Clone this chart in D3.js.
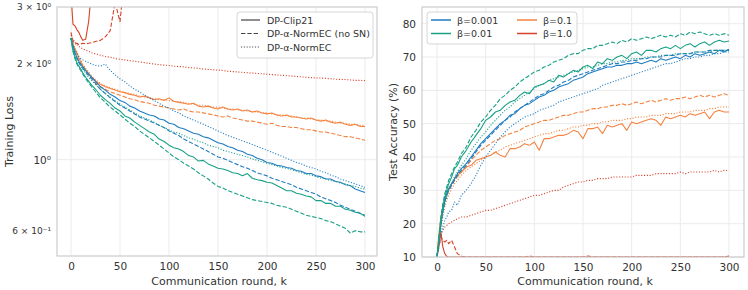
<!DOCTYPE html>
<html>
<head>
<meta charset="utf-8">
<script src="https://cdn.jsdelivr.net/npm/d3@7"></script>
<style>
  body { margin: 0; background: #fff; }
  svg text { font-family: "DejaVu Sans", sans-serif; fill: #333; }
</style>
</head>
<body>
<script>
const rounds = [0, 2, 4, 6, 8, 10, 12, 15, 18, 21, 25,
  30, 35, 40, 45, 50, 55, 60, 65, 70, 75,
  80, 85, 90, 95, 100, 105, 110, 115, 120, 125,
  130, 135, 140, 145, 150, 155, 160, 165, 170, 175,
  180, 185, 190, 195, 200, 205, 210, 215, 220, 225,
  230, 235, 240, 245, 250, 255, 260, 265, 270, 275,
  280, 285, 290, 295, 300];

const betas = ["β=0.001", "β=0.01", "β=0.1", "β=1.0"];
const methods = ["DP-Clip21", "DP-α-NormEC (no SN)", "DP-α-NormEC"];
const xTicks = [0, 50, 100, 150, 200, 250, 300];
const lossTicks = [0.6, 1, 2, 3];
const lossTickLabels = ["6 × 10⁻¹", "10⁰", "2 × 10⁰", "3 × 10⁰"];
const accTicks = [10, 20, 30, 40, 50, 60, 70, 80];

// ---- training loss ----
const lossClip001 = [2.40, 2.26, 2.16, 2.09, 2.03, 1.99, 1.95, 1.90, 1.85, 1.81, 1.76,
  1.69, 1.65, 1.60, 1.57, 1.53, 1.51, 1.47, 1.45, 1.42, 1.40,
  1.38, 1.37, 1.34, 1.33, 1.30, 1.29, 1.26, 1.25, 1.23, 1.21,
  1.20, 1.18, 1.17, 1.15, 1.13, 1.12, 1.10, 1.09, 1.07, 1.06,
  1.04, 1.03, 1.01, 1.00, 0.98, 0.975, 0.96, 0.955, 0.945, 0.94,
  0.925, 0.92, 0.905, 0.905, 0.89, 0.885, 0.87, 0.87, 0.855, 0.85,
  0.835, 0.83, 0.81, 0.80, 0.79];
const lossNoSN001 = [2.40, 2.24, 2.14, 2.07, 2.01, 1.97, 1.93, 1.88, 1.83, 1.79, 1.73,
  1.66, 1.61, 1.56, 1.52, 1.48, 1.45, 1.42, 1.39, 1.36, 1.34,
  1.32, 1.30, 1.28, 1.26, 1.23, 1.21, 1.19, 1.16, 1.14, 1.12,
  1.10, 1.08, 1.06, 1.04, 1.02, 1.01, 0.995, 0.98, 0.965, 0.95,
  0.94, 0.925, 0.91, 0.90, 0.89, 0.875, 0.865, 0.855, 0.845, 0.835,
  0.82, 0.81, 0.80, 0.79, 0.78, 0.765, 0.755, 0.745, 0.735, 0.72,
  0.71, 0.70, 0.69, 0.68, 0.67];
const lossNorm001 = [2.40, 2.28, 2.20, 2.14, 2.10, 2.07, 2.05, 2.03, 2.01, 1.99, 1.97,
  1.96, 1.99, 1.90, 1.84, 1.79, 1.75, 1.70, 1.66, 1.63, 1.59,
  1.56, 1.53, 1.50, 1.47, 1.45, 1.42, 1.40, 1.37, 1.35, 1.33,
  1.31, 1.29, 1.27, 1.25, 1.23, 1.21, 1.19, 1.175, 1.16, 1.145,
  1.13, 1.115, 1.10, 1.085, 1.07, 1.055, 1.04, 1.025, 1.01, 0.995,
  0.98, 0.97, 0.955, 0.945, 0.935, 0.92, 0.91, 0.895, 0.885, 0.87,
  0.86, 0.85, 0.84, 0.83, 0.82];
const lossClip01 = [2.40, 2.20, 2.09, 2.01, 1.96, 1.92, 1.87, 1.81, 1.76, 1.71, 1.66,
  1.59, 1.54, 1.50, 1.45, 1.42, 1.37, 1.35, 1.31, 1.28, 1.25,
  1.22, 1.20, 1.16, 1.14, 1.11, 1.09, 1.08, 1.06, 1.03, 1.02,
  0.99, 0.995, 0.97, 0.955, 0.94, 0.935, 0.925, 0.91, 0.905, 0.89,
  0.905, 0.875, 0.865, 0.86, 0.85, 0.845, 0.83, 0.815, 0.80, 0.80,
  0.785, 0.78, 0.77, 0.765, 0.745, 0.745, 0.73, 0.73, 0.715, 0.715,
  0.70, 0.695, 0.685, 0.68, 0.665];
const lossNoSN01 = [2.40, 2.18, 2.07, 1.99, 1.94, 1.90, 1.85, 1.79, 1.74, 1.69, 1.63,
  1.56, 1.51, 1.46, 1.42, 1.38, 1.34, 1.30, 1.27, 1.23, 1.20,
  1.17, 1.14, 1.11, 1.08, 1.05, 1.02, 1.00, 0.975, 0.955, 0.935,
  0.91, 0.89, 0.87, 0.845, 0.825, 0.815, 0.80, 0.79, 0.78, 0.77,
  0.76, 0.75, 0.745, 0.74, 0.735, 0.73, 0.72, 0.715, 0.71, 0.70,
  0.69, 0.68, 0.67, 0.665, 0.66, 0.655, 0.645, 0.64, 0.63, 0.62,
  0.61, 0.59, 0.60, 0.595, 0.595];
const lossNorm01 = [2.40, 2.22, 2.12, 2.05, 2.00, 1.96, 1.92, 1.86, 1.81, 1.77, 1.72,
  1.66, 1.61, 1.57, 1.53, 1.49, 1.46, 1.43, 1.40, 1.37, 1.35,
  1.33, 1.31, 1.28, 1.26, 1.24, 1.22, 1.21, 1.19, 1.17, 1.16,
  1.14, 1.13, 1.11, 1.10, 1.09, 1.07, 1.06, 1.05, 1.04, 1.03,
  1.02, 1.005, 0.995, 0.985, 0.975, 0.965, 0.955, 0.945, 0.94, 0.93,
  0.92, 0.91, 0.90, 0.895, 0.885, 0.875, 0.87, 0.86, 0.855, 0.845,
  0.84, 0.83, 0.825, 0.815, 0.81];
const lossClip1 = [2.40, 2.30, 2.22, 2.16, 2.08, 2.02, 1.97, 1.91, 1.86, 1.81, 1.76,
  1.72, 1.69, 1.67, 1.65, 1.63, 1.62, 1.60, 1.59, 1.57, 1.58,
  1.56, 1.54, 1.55, 1.53, 1.56, 1.52, 1.51, 1.50, 1.49, 1.50,
  1.47, 1.46, 1.47, 1.45, 1.44, 1.46, 1.44, 1.43, 1.44, 1.42,
  1.43, 1.41, 1.42, 1.40, 1.39, 1.40, 1.38, 1.37, 1.38, 1.36,
  1.36, 1.35, 1.34, 1.35, 1.33, 1.32, 1.33, 1.31, 1.30, 1.31,
  1.29, 1.28, 1.29, 1.27, 1.27];
const lossNoSN1 = [2.40, 2.29, 2.21, 2.14, 2.07, 2.01, 1.96, 1.90, 1.85, 1.80, 1.74,
  1.69, 1.66, 1.63, 1.61, 1.59, 1.57, 1.55, 1.54, 1.52, 1.51,
  1.50, 1.48, 1.47, 1.46, 1.45, 1.44, 1.43, 1.44, 1.42, 1.41,
  1.41, 1.40, 1.39, 1.38, 1.37, 1.36, 1.37, 1.35, 1.34, 1.33,
  1.32, 1.32, 1.31, 1.30, 1.29, 1.30, 1.28, 1.27, 1.27, 1.26,
  1.26, 1.25, 1.24, 1.24, 1.23, 1.22, 1.22, 1.21, 1.20, 1.19,
  1.18, 1.18, 1.17, 1.16, 1.15];
const lossNorm1 = [2.40, 2.31, 2.23, 2.17, 2.10, 2.04, 1.99, 1.93, 1.88, 1.83, 1.78,
  1.73, 1.70, 1.68, 1.66, 1.64, 1.62, 1.61, 1.60, 1.58, 1.57,
  1.56, 1.55, 1.54, 1.54, 1.53, 1.52, 1.52, 1.51, 1.50, 1.49,
  1.48, 1.48, 1.47, 1.46, 1.46, 1.45, 1.44, 1.44, 1.43, 1.43,
  1.42, 1.41, 1.41, 1.40, 1.40, 1.39, 1.38, 1.38, 1.37, 1.37,
  1.36, 1.35, 1.35, 1.34, 1.33, 1.33, 1.32, 1.32, 1.31, 1.30,
  1.30, 1.29, 1.29, 1.28, 1.28];
const lossClip10 = [3.30, 2.65, 2.62, 2.55, 2.50, 2.42, 2.36, 2.38, 2.70, 3.40];
const lossNoSN10 = [2.50, 2.35, 2.30, 2.31, 2.29, 2.30, 2.31, 2.30, 2.31, 2.32, 2.34,
  2.36, 2.42, 2.53, 3.10, 2.70, 3.80];
const lossNorm10 = [2.45, 2.38, 2.33, 2.29, 2.26, 2.24, 2.22, 2.20, 2.18, 2.16, 2.14,
  2.12, 2.10, 2.09, 2.07, 2.06, 2.05, 2.04, 2.03, 2.02, 2.01,
  2.00, 1.99, 1.98, 1.975, 1.97, 1.96, 1.955, 1.95, 1.94, 1.935,
  1.93, 1.92, 1.915, 1.91, 1.905, 1.90, 1.89, 1.885, 1.88, 1.875,
  1.87, 1.865, 1.86, 1.855, 1.85, 1.845, 1.84, 1.835, 1.83, 1.825,
  1.82, 1.815, 1.81, 1.805, 1.80, 1.80, 1.795, 1.79, 1.785, 1.78,
  1.78, 1.775, 1.77, 1.77, 1.765];

// ---- test accuracy ----
const accClip001 = [10, 15, 20, 24, 27, 29, 30.5, 32, 33.5, 35, 36.5,
  38, 40, 42, 44, 45.5, 47, 48.5, 50, 51, 52.5,
  53, 54.5, 55.5, 56, 57, 58, 58.5, 59.5, 60, 61,
  61.5, 62, 63, 63.5, 64, 65, 65.5, 66, 66.5, 67,
  67, 67.5, 67.5, 68, 68, 68.5, 68, 68.5, 69, 68.5,
  69.5, 69, 69.5, 70, 69.5, 70.5, 70, 71, 70.5, 71,
  71.5, 71, 72, 71.5, 72.3];
const accNoSN001 = [10, 15, 20, 23.5, 26.5, 28.5, 30, 31.5, 33, 34.5, 36,
  37.5, 39.5, 41.5, 43.5, 45, 46.5, 48, 49.5, 51, 52,
  53.5, 54.5, 55.5, 56.5, 57.5, 58.5, 59, 60, 61, 61.5,
  62.5, 63, 64, 64.5, 65, 65.5, 66, 66.5, 67, 67.5,
  68, 68, 68.5, 68.5, 69, 69, 69.5, 69.5, 70, 70,
  70, 70.5, 70.5, 70.5, 71, 71, 71, 71.5, 71.5, 71.5,
  72, 72, 72, 72, 72];
const accNorm001 = [10, 14, 17, 19, 21, 22, 23.5, 24, 26.5, 25.5, 28.5,
  30, 32, 34.5, 37.5, 40, 42, 44, 46, 47.5, 49,
  50, 51, 52, 52.5, 53, 54, 54.5, 55, 55.5, 56.5,
  57, 57.5, 58, 58.5, 59, 59.5, 60, 60.5, 61.5, 62,
  62.5, 63, 63.5, 64, 64.5, 65, 65.5, 66, 66.5, 67,
  67.5, 68, 68, 68.5, 69, 69.5, 69.5, 70, 70, 70.5,
  70.5, 71, 71, 71.5, 71.5];
const accClip01 = [10, 15, 21, 25, 28, 30, 32, 34, 36.5, 37.5, 40,
  42, 44.5, 46.5, 48.5, 51, 52, 53.5, 54, 55.5, 56.5,
  57, 58.5, 59.5, 59, 61, 61.5, 62, 63, 62.5, 64.5,
  64, 65, 66, 65.5, 67, 67.5, 66.5, 68.5, 68, 69.5,
  69, 70, 70.5, 69.5, 71, 71.5, 70.5, 72, 72, 71.5,
  72.5, 73, 72.5, 73.5, 72.5, 73.5, 74, 73, 74, 74.5,
  73.5, 74.5, 75, 74.5, 74.8];
const accNoSN01 = [10, 16, 22, 26, 29, 31, 33, 35, 37, 38.5, 41,
  43, 46, 48, 50.5, 52, 54, 55.5, 57.5, 58.5, 60,
  61, 62.5, 63.5, 64.5, 65.5, 66, 67, 67.5, 68.5, 69,
  69.5, 70.5, 71, 71, 72, 72.5, 72.5, 73.5, 73.5, 74,
  74.5, 74, 75, 74.5, 75.5, 75, 75.5, 76, 75.5, 76,
  76.5, 76, 76.5, 76, 77, 76.5, 77.5, 77, 77.5, 77,
  76.5, 77, 76.5, 77, 76.5];
const accNorm01 = [10, 14, 19, 23, 26, 28, 30, 32, 34, 35.5, 37.5,
  39.5, 42, 44, 46, 47.5, 49.5, 51, 52.5, 54, 55,
  56.5, 57.5, 58.5, 59.5, 60.5, 61.5, 62, 63, 63.5, 64,
  64.5, 65, 65.5, 66, 66.5, 67, 67, 67.5, 68, 68,
  68.5, 68.5, 69, 69, 69.5, 69.5, 69.5, 70, 70, 70,
  70.5, 70.5, 70.5, 71, 71, 71, 71, 71.5, 71.5, 71.5,
  71.5, 72, 72, 72, 72];
const accClip1 = [10, 17, 22, 25, 27.5, 29, 30.5, 32, 33.5, 34.5, 35.5,
  37, 37.5, 39, 39.5, 40, 40.5, 41.5, 40.5, 40, 42.5,
  42.5, 43, 44, 43.5, 44.5, 42, 45.5, 45.5, 46, 46.5,
  46.5, 47, 48, 47.5, 45.5, 48.5, 48.5, 49, 47, 49.5,
  49, 49.5, 50, 48, 50.5, 50, 50.5, 51, 51.5, 51,
  49.5, 52, 51.5, 52, 52.5, 52, 53, 52.5, 53, 53.5,
  51.5, 53.5, 54, 53.5, 53.5];
const accNoSN1 = [10, 16, 21, 24.5, 27, 28.5, 30, 31.5, 33, 34, 35.5,
  37, 39, 40.5, 42, 43, 44, 45, 45.5, 46.5, 47,
  47.5, 48, 49, 49.5, 50, 50.5, 51, 51, 51.5, 52,
  52.5, 52.5, 53, 53.5, 53.5, 54, 54.5, 54.5, 55, 55,
  55.5, 55.5, 56, 55.5, 56, 56.5, 56, 56.5, 57, 56.5,
  57, 57.5, 57, 57.5, 57.5, 58, 57.5, 58, 58.5, 58,
  58.5, 58, 58.5, 59, 58.5];
const accNorm1 = [10, 15, 19, 22, 25, 27, 28.5, 30.5, 32, 33, 34.5,
  36, 37, 38, 39, 40, 40.5, 41.5, 42, 43, 43.5,
  44, 44.5, 45, 45.5, 46, 46.5, 47, 47, 47.5, 48,
  48, 48.5, 49, 49, 49.5, 49.5, 50, 50, 50.5, 50.5,
  51, 51, 51, 51.5, 51.5, 52, 52, 52, 52.5, 52.5,
  52.5, 53, 53, 53, 53.5, 53.5, 53.5, 54, 54, 54,
  54.5, 54.5, 55, 55, 55];
const accClip10 = [10, 14, 17.5, 13, 11, 10.2, 10, 10, 10, 10, 10,
  10, 10, 10, 10, 10, 10, 10, 10, 10, 10,
  10, 10, 10, 10, 10, 10, 10, 10, 10, 10,
  10, 10, 10, 10, 10, 10, 10, 10, 10, 10,
  10, 10, 10, 10, 10, 10, 10, 10, 10, 10,
  10, 10, 10, 10, 10, 10, 10, 10, 10, 10,
  10, 10, 10, 10, 10];
const accNoSN10 = [10, 13, 16, 15, 14.5, 15, 14, 15, 13, 11, 10.2,
  10, 10, 10, 10, 10, 10, 10, 10, 10, 10,
  10, 10, 10, 10.3, 10, 10, 10, 10, 10, 10,
  10, 10, 10, 10, 10, 10.3, 10, 10, 10, 10,
  10, 10, 10, 10, 10, 10, 10, 10, 10, 10,
  10, 10, 10, 10, 10, 10, 10, 10, 10, 10,
  10, 10, 10, 10, 10.3];
const accNorm10 = [10, 13, 16.5, 18, 19, 19.5, 20, 20.5, 21, 21.5, 22,
  22, 22.5, 23, 23.5, 24, 24, 24.5, 25, 25.5, 26,
  26.5, 27, 27.5, 28, 28.5, 28.5, 29, 29.5, 30, 30,
  31, 31.5, 32, 32.5, 32.5, 33, 33, 33.5, 33.5, 33.5,
  34, 34, 34, 34, 34, 34.5, 34.5, 34.5, 34.5, 35,
  35, 35, 35, 35, 35.5, 35, 35.5, 35.5, 35.5, 35.5,
  35.5, 36, 35.5, 36, 35.9];

const colors = ["#1f7cc2", "#17a085", "#f5823f", "#d6422a"];
const dashes = [null, "4.4,1.9", "1.1,1.7"];

const lossSeries = [
  [lossClip001, lossNoSN001, lossNorm001],
  [lossClip01, lossNoSN01, lossNorm01],
  [lossClip1, lossNoSN1, lossNorm1],
  [lossClip10, lossNoSN10, lossNorm10]
];
const accSeries = [
  [accClip001, accNoSN001, accNorm001],
  [accClip01, accNoSN01, accNorm01],
  [accClip1, accNoSN1, accNorm1],
  [accClip10, accNoSN10, accNorm10]
];

const svg = d3.select("body").append("svg")
  .attr("width", 748).attr("height", 290);

function drawPanel(p) {
  const g = svg.append("g");
  const x = d3.scaleLinear().domain([0, 300]).range(p.xr);

  // grid
  g.selectAll(".vg").data(xTicks).enter().append("line")
    .attr("x1", d => x(d)).attr("x2", d => x(d))
    .attr("y1", p.top).attr("y2", p.bottom)
    .attr("stroke", "#ebebeb").attr("stroke-width", 1);
  g.selectAll(".hg").data(p.grid).enter().append("line")
    .attr("x1", p.left).attr("x2", p.right)
    .attr("y1", d => p.y(d)).attr("y2", d => p.y(d))
    .attr("stroke", "#ebebeb").attr("stroke-width", 1);

  // curves
  const clipId = "clip" + p.id;
  svg.append("clipPath").attr("id", clipId).append("rect")
    .attr("x", p.left).attr("y", p.top)
    .attr("width", p.right - p.left).attr("height", p.bottom - p.top);
  const line = d3.line().x(d => x(d[0])).y(d => p.y(d[1]));
  const lines = g.append("g").attr("clip-path", "url(#" + clipId + ")");
  [3, 2, 0, 1].forEach(b => {
    [2, 1, 0].forEach(m => {
      const vals = p.series[b][m];
      const pts = vals.map((v, i) => [rounds[i], v]);
      lines.append("path").datum(pts)
        .attr("d", line)
        .attr("fill", "none")
        .attr("stroke", colors[b])
        .attr("stroke-width", 1.1)
        .attr("stroke-linejoin", "round")
        .attr("stroke-dasharray", dashes[m]);
    });
  });

  // frame
  g.append("rect")
    .attr("x", p.left).attr("y", p.top)
    .attr("width", p.right - p.left).attr("height", p.bottom - p.top)
    .attr("fill", "none").attr("stroke", "#cccccc").attr("stroke-width", 1.2);

  // axes
  const xa = g.append("g")
    .attr("transform", "translate(0," + p.bottom + ")")
    .call(d3.axisBottom(x).tickValues(xTicks).tickSize(0).tickPadding(7));
  xa.select(".domain").remove();
  xa.selectAll("text").attr("font-size", 10.5).style("font-family", "DejaVu Sans");

  const ya = g.append("g")
    .attr("transform", "translate(" + p.left + ",0)")
    .call(d3.axisLeft(p.y).tickValues(p.yTicks).tickFormat(p.yFormat).tickSize(0).tickPadding(6));
  ya.select(".domain").remove();
  ya.selectAll("text").attr("font-size", p.yFontSize).style("font-family", "DejaVu Sans");

  g.append("text")
    .attr("x", (p.left + p.right) / 2 + 2).attr("y", 285)
    .attr("text-anchor", "middle").attr("font-size", 11)
    .text("Communication round, k");
  g.append("text")
    .attr("transform", "translate(" + p.ylabX + "," + ((p.top + p.bottom) / 2) + ") rotate(-90)")
    .attr("text-anchor", "middle").attr("font-size", 11)
    .text(p.ylabel);
}

const yLoss = d3.scaleLog().domain([0.5, 3]).range([256, 7]);
drawPanel({
  id: "L", left: 57, right: 377, top: 7, bottom: 256, xr: [71, 365],
  y: yLoss, series: lossSeries, grid: [1], yTicks: lossTicks,
  yFormat: (d, i) => lossTickLabels[i],
  yFontSize: (d) => d === 1 ? 10.5 : 9,
  ylabel: "Training Loss", ylabX: 13
});

const yAcc = d3.scaleLinear().domain([10, 85]).range([257, 7]);
drawPanel({
  id: "R", left: 422, right: 744, top: 7, bottom: 257, xr: [437, 729],
  y: yAcc, series: accSeries, grid: accTicks, yTicks: accTicks,
  yFormat: d => d, yFontSize: 10.5,
  ylabel: "Test Accuracy (%)", ylabX: 397
});

// legend: methods
const lg1 = svg.append("g");
lg1.append("rect").attr("x", 237).attr("y", 12).attr("width", 136).attr("height", 46)
  .attr("rx", 3).attr("fill", "#fff").attr("fill-opacity", 0.85)
  .attr("stroke", "#d6d6d6").attr("stroke-width", 1);
methods.forEach((m, i) => {
  const yy = 20 + i * 13.5;
  lg1.append("line").attr("x1", 241).attr("x2", 260).attr("y1", yy).attr("y2", yy)
    .attr("stroke", "#444").attr("stroke-width", 1.2).attr("stroke-dasharray", dashes[i]);
  lg1.append("text").attr("x", 267).attr("y", yy + 3.5).attr("font-size", 9.5).text(m);
});

// legend: betas
const lg2 = svg.append("g");
lg2.append("rect").attr("x", 427).attr("y", 12).attr("width", 150).attr("height", 32)
  .attr("rx", 3).attr("fill", "#fff").attr("fill-opacity", 0.85)
  .attr("stroke", "#d6d6d6").attr("stroke-width", 1);
betas.forEach((b, i) => {
  const col = Math.floor(i / 2), row = i % 2;
  const xx = 431 + col * 86, yy = 20 + row * 13.5;
  lg2.append("line").attr("x1", xx).attr("x2", xx + 20).attr("y1", yy).attr("y2", yy)
    .attr("stroke", colors[i]).attr("stroke-width", 1.5);
  lg2.append("text").attr("x", xx + 26).attr("y", yy + 3.5).attr("font-size", 9.5).text(b);
});
</script>
</body>
</html>
